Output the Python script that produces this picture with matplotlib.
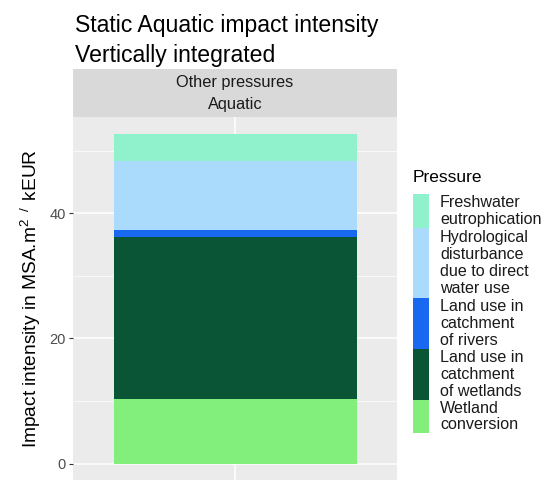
import matplotlib
matplotlib.use("Agg")
import matplotlib.pyplot as plt
from matplotlib.patches import Rectangle
from matplotlib.ticker import MultipleLocator

plt.rcParams["font.family"] = ["Liberation Sans", "DejaVu Sans"]
plt.rcParams["mathtext.fontset"] = "custom"
plt.rcParams["mathtext.rm"] = "Liberation Sans"
plt.rcParams["mathtext.it"] = "Liberation Sans"

# Data (legend order, top of stack first)
pressures = ["Freshwater eutrophication", "Hydrological disturbance due to direct water use",
             "Land use in catchment of rivers", "Land use in catchment of wetlands",
             "Wetland conversion"]
legend_labels = ["Freshwater\neutrophication", "Hydrological\ndisturbance\ndue to direct\nwater use",
                 "Land use in\ncatchment\nof rivers", "Land use in\ncatchment\nof wetlands",
                 "Wetland\nconversion"]
values = [4.45, 11.0, 1.1, 25.85, 10.35]
colors = ["#8FF2CC", "#AADAFC", "#1868F0", "#0B5537", "#82EE7C"]
category = "Aquatic"
strip_labels = ["Other pressures", "Aquatic"]

W, H = 550, 480
fig = plt.figure(figsize=(W / 100, H / 100), dpi=100)


def fx(x):
    return x / W


def fy(y):
    return 1 - y / H


# panel in pixel coordinates
p_left, p_right, p_top, p_bot = 73, 397, 117, 480
ax = fig.add_axes([fx(p_left), fy(p_bot), fx(p_right - p_left), (p_bot - p_top) / H])
ax.set_facecolor("#EBEBEB")
for s in ax.spines.values():
    s.set_visible(False)

# stacked bar, bottom level drawn first
bottom = 0.0
for v, c in zip(values[::-1], colors[::-1]):
    ax.bar(1, v, width=0.9, bottom=bottom, color=c, linewidth=0, zorder=3)
    bottom += v
total = bottom

ax.set_xlim(0.4, 1.6)
ax.set_ylim(-0.05 * total, total * 1.05)
ax.yaxis.set_major_locator(MultipleLocator(20))
ax.yaxis.set_minor_locator(MultipleLocator(10))
ax.grid(which="major", color="white", linewidth=1.1, zorder=1)
ax.grid(which="minor", color="white", linewidth=0.5, zorder=1)
ax.set_xticks([1])
ax.set_xticklabels([])
ax.tick_params(axis="x", length=0)
ax.tick_params(axis="y", which="major", length=3, color="#333333", labelcolor="#4D4D4D",
               labelsize=10.5, pad=2)
ax.tick_params(axis="y", which="minor", length=0)
ax.set_axisbelow(True)
ax.set_ylabel(r"Impact intensity in MSA.m$^{\mathrm{2}\ \ \mathrm{/}\ \ }$kEUR", fontsize=13.8,
              color="black", labelpad=5)

# facet strip
fig.add_artist(Rectangle((fx(p_left), fy(p_top)), fx(p_right - p_left), (p_top - 69) / H,
                         transform=fig.transFigure, facecolor="#D9D9D9", edgecolor="none"))
fig.text(fx((p_left + p_right) / 2), fy(83), strip_labels[0], ha="center", va="center",
         fontsize=11.8, color="#1A1A1A")
fig.text(fx((p_left + p_right) / 2), fy(105), strip_labels[1], ha="center", va="center",
         fontsize=11.8, color="#1A1A1A")

# title
fig.text(fx(75), fy(62), "Static Aquatic impact intensity\nVertically integrated",
         ha="left", va="baseline", fontsize=16.6, linespacing=1.37)

# legend
fig.text(fx(413), fy(182), "Pressure", ha="left", va="baseline", fontsize=12.5)
key_edges = [194, 228, 298, 349, 400, 433]
for i, (lab, c) in enumerate(zip(legend_labels, colors)):
    y0, y1 = key_edges[i], key_edges[i + 1]
    fig.add_artist(Rectangle((fx(413), fy(y1)), fx(16), (y1 - y0) / H,
                             transform=fig.transFigure, facecolor=c, edgecolor="none"))
    fig.text(fx(440), fy((y0 + y1) / 2), lab, ha="left", va="center", fontsize=11.6,
             linespacing=1.14, color="#1A1A1A")

fig.savefig("out.png", dpi=100)
